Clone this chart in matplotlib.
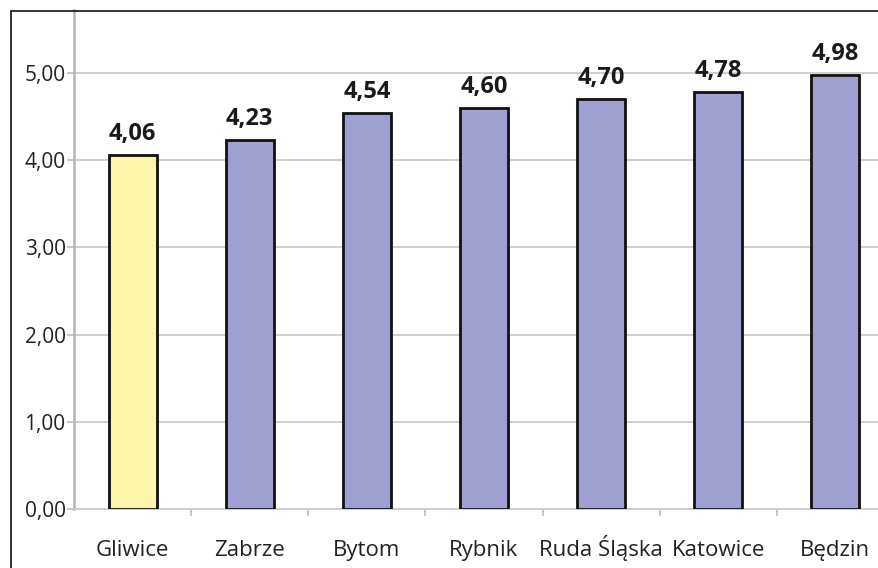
import matplotlib.pyplot as plt
from matplotlib.patches import Rectangle

# dane
miasta = ['Gliwice', 'Zabrze', 'Bytom', 'Rybnik', 'Ruda Śląska', 'Katowice', 'Będzin']
wartosci = [4.06, 4.23, 4.54, 4.60, 4.70, 4.78, 4.98]
kolory = ['#faf5a8', '#a0a0d0', '#a0a0d0', '#a0a0d0', '#a0a0d0', '#a0a0d0', '#a0a0d0']
y_ticks = [0, 1, 2, 3, 4, 5]

plt.rcParams['font.family'] = ['Open Sans', 'DejaVu Sans']

fig = plt.figure(figsize=(8.79, 5.68), dpi=100, facecolor='white')

# ramka wokół wykresu (wychodzi poza obraz z prawej i od dołu)
W, H = 879, 568
fig.patches.append(Rectangle((11.5 / W, -0.05), 1.0, (H - 10.5) / H + 0.05,
                             transform=fig.transFigure, fill=False,
                             edgecolor='#222222', linewidth=1.3))

ax = fig.add_axes([74 / W, 59 / H, 820 / W, 499 / H])
ax.set_facecolor('none')

x = range(len(miasta))
bars = ax.bar(x, wartosci, width=0.41, color=kolory, edgecolor='#111111',
              linewidth=2, zorder=3)

for b, v in zip(bars, wartosci):
    ax.text(b.get_x() + b.get_width() / 2, v + 0.1, f'{v:.2f}'.replace('.', ','),
            ha='center', va='bottom', fontsize=17, fontweight='bold', color='#1a1a1a')

ax.set_xlim(-0.5, len(miasta) - 0.5)
ax.set_ylim(0, 5.72)
ax.set_yticks(y_ticks)
ax.set_yticklabels([f'{t:.2f}'.replace('.', ',') for t in y_ticks], fontsize=15, color='#222222')
ax.set_xticks(list(x))
ax.set_xticklabels(miasta, fontsize=16, color='#222222')
for lab in ax.get_xticklabels():
    lab.set_verticalalignment('baseline')
ax.set_xticks([i + 0.5 for i in x], minor=True)

ax.tick_params(axis='x', which='major', length=0, pad=34)
ax.tick_params(axis='x', which='minor', length=5, color='#bbbbbb', width=1.2)
ax.tick_params(axis='y', length=5, color='#bbbbbb', width=1.2, pad=1)

ax.grid(axis='y', color='#cccccc', linewidth=1.3, zorder=0)
for s in ['top', 'right']:
    ax.spines[s].set_visible(False)
ax.spines['left'].set_color('#b4b4b4')
ax.spines['left'].set_linewidth(1.8)
ax.spines['bottom'].set_color('#cccccc')
ax.spines['bottom'].set_linewidth(1.3)

fig.savefig('out.png', dpi=100)
